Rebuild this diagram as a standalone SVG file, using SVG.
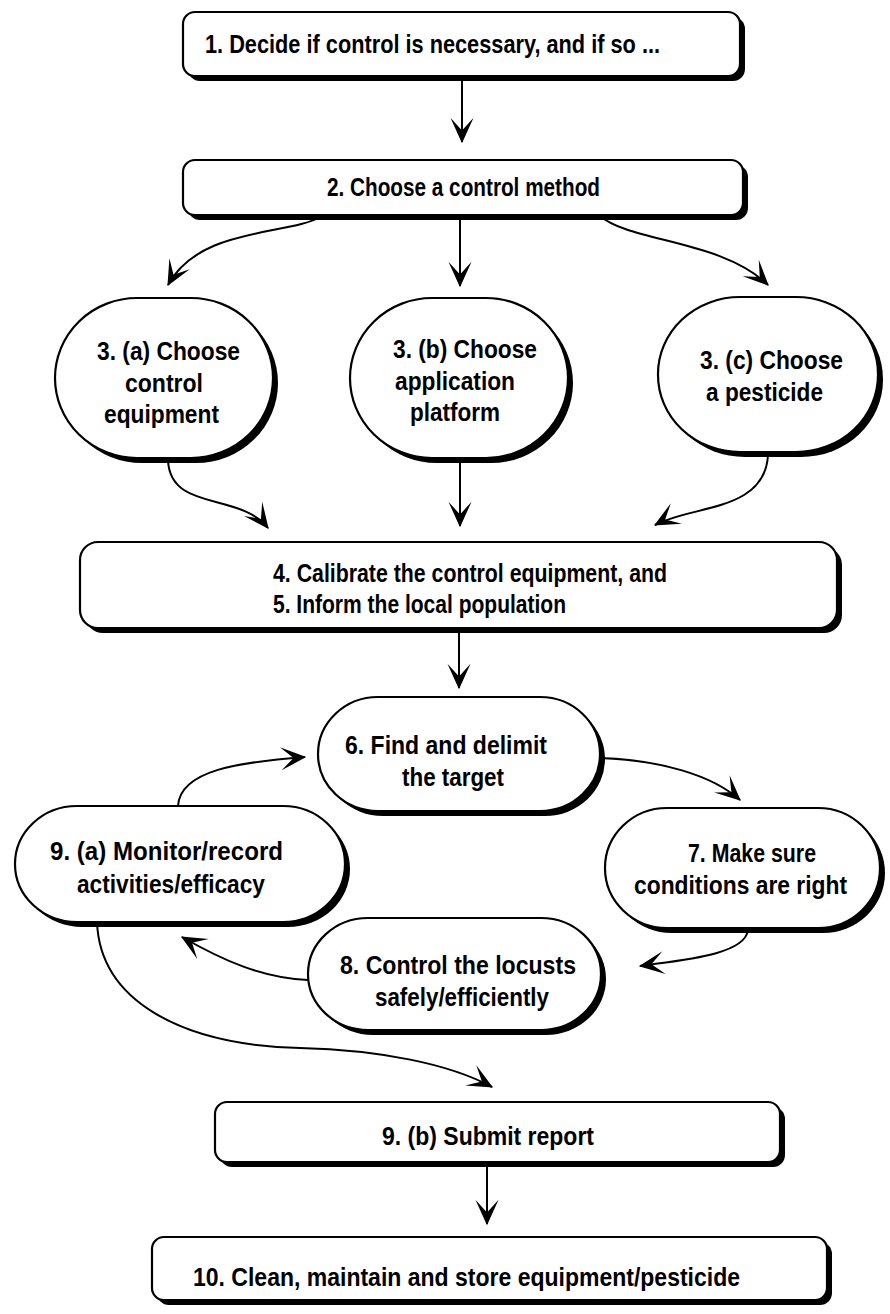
<svg xmlns="http://www.w3.org/2000/svg" width="890" height="1314" viewBox="0 0 890 1314">
<style>
.sh{fill:#000}
.bx{fill:#fff;stroke:#000;stroke-width:2.2}
.t{font-family:"Liberation Sans Narrow","Liberation Sans",Arial,sans-serif;font-weight:bold;font-size:25px;fill:#000}
.c{fill:none;stroke:#000;stroke-width:2;marker-end:url(#ah)}
</style>
<defs>
<marker id="ah" markerUnits="userSpaceOnUse" markerWidth="30" markerHeight="30" refX="0" refY="0" viewBox="-24 -12 26 24" orient="auto" overflow="visible">
<path d="M1,0 L-21,-10 L-10,0 L-21,10 Z" fill="#000"/>
</marker>
</defs>
<rect width="890" height="1314" fill="#fff"/>
<g id="connectors">
<path class="c" d="M462,76 L462,142"/>
<path class="c" d="M322,216 C290,236 200,226 168,285"/>
<path class="c" d="M460,216 L460,286"/>
<path class="c" d="M600,216 C630,242 722,240 768,285"/>
<path class="c" d="M168,460 C170,512 240,492 268,528"/>
<path class="c" d="M460,460 L460,526"/>
<path class="c" d="M768,455 C765,512 692,505 655,525"/>
<path class="c" d="M459,630 L459,688"/>
<path class="c" d="M178,806 C180,770 240,762 305,757"/>
<path class="c" d="M600,758 C660,760 712,775 740,800"/>
<path class="c" d="M748,930 C745,955 682,960 640,966"/>
<path class="c" d="M308,980 C262,978 222,960 182,937"/>
<path class="c" d="M97,922 C100,1000 180,1045 300,1048 C380,1050 450,1064 492,1087"/>
<path class="c" d="M487,1165 L487,1224"/>
</g>
<g id="n1">
<rect class="sh" x="188" y="17" width="557" height="64" rx="12"/>
<rect class="bx" x="183" y="12" width="557" height="64" rx="12"/>
<text class="t" x="205" y="53" textLength="455" lengthAdjust="spacingAndGlyphs">1. Decide if control is necessary, and if so ...</text>
</g>
<g id="n2">
<rect class="sh" x="188" y="165" width="560" height="55" rx="12"/>
<rect class="bx" x="183" y="160" width="560" height="55" rx="12"/>
<text class="t" x="327" y="196" textLength="273" lengthAdjust="spacingAndGlyphs">2. Choose a control method</text>
</g>
<g id="n3a">
<rect class="sh" x="60" y="303" width="218" height="160" rx="82" ry="80"/>
<rect class="bx" x="55" y="298" width="218" height="160" rx="82" ry="80"/>
<text class="t" x="97" y="360" textLength="143" lengthAdjust="spacingAndGlyphs">3. (a) Choose</text>
<text class="t" x="125" y="392" textLength="78" lengthAdjust="spacingAndGlyphs">control</text>
<text class="t" x="104" y="423" textLength="115" lengthAdjust="spacingAndGlyphs">equipment</text>
</g>
<g id="n3b">
<rect class="sh" x="355" y="303" width="218" height="160" rx="82" ry="80"/>
<rect class="bx" x="350" y="298" width="218" height="160" rx="82" ry="80"/>
<text class="t" x="393" y="358" textLength="144" lengthAdjust="spacingAndGlyphs">3. (b) Choose</text>
<text class="t" x="395" y="390" textLength="120" lengthAdjust="spacingAndGlyphs">application</text>
<text class="t" x="410" y="421" textLength="90" lengthAdjust="spacingAndGlyphs">platform</text>
</g>
<g id="n3c">
<rect class="sh" x="663" y="302" width="220" height="155" rx="82" ry="77"/>
<rect class="bx" x="658" y="297" width="220" height="155" rx="82" ry="77"/>
<text class="t" x="700" y="369" textLength="143" lengthAdjust="spacingAndGlyphs">3. (c) Choose</text>
<text class="t" x="706" y="401" textLength="117" lengthAdjust="spacingAndGlyphs">a pesticide</text>
</g>
<g id="n4">
<rect class="sh" x="85" y="547" width="757" height="86" rx="18"/>
<rect class="bx" x="80" y="542" width="757" height="86" rx="18"/>
<text class="t" x="273" y="582" textLength="394" lengthAdjust="spacingAndGlyphs">4. Calibrate the control equipment, and</text>
<text class="t" x="273" y="613" textLength="293" lengthAdjust="spacingAndGlyphs">5. Inform the local population</text>
</g>
<g id="n6">
<rect class="sh" x="323" y="702" width="282" height="114" rx="60" ry="57"/>
<rect class="bx" x="318" y="697" width="282" height="114" rx="60" ry="57"/>
<text class="t" x="345" y="754" textLength="202" lengthAdjust="spacingAndGlyphs">6. Find and delimit</text>
<text class="t" x="402" y="786" textLength="102" lengthAdjust="spacingAndGlyphs">the target</text>
</g>
<g id="n9a">
<rect class="sh" x="20" y="811" width="330" height="116" rx="62" ry="58"/>
<rect class="bx" x="15" y="806" width="330" height="116" rx="62" ry="58"/>
<text class="t" x="50" y="860" textLength="233" lengthAdjust="spacingAndGlyphs">9. (a) Monitor/record</text>
<text class="t" x="77" y="893" textLength="188" lengthAdjust="spacingAndGlyphs">activities/efficacy</text>
</g>
<g id="n7">
<rect class="sh" x="610" y="813" width="275" height="120" rx="62" ry="60"/>
<rect class="bx" x="605" y="808" width="275" height="120" rx="62" ry="60"/>
<text class="t" x="688" y="862" textLength="128" lengthAdjust="spacingAndGlyphs">7. Make sure</text>
<text class="t" x="634" y="894" textLength="213" lengthAdjust="spacingAndGlyphs">conditions are right</text>
</g>
<g id="n8">
<rect class="sh" x="313" y="923" width="293" height="112" rx="60" ry="56"/>
<rect class="bx" x="308" y="918" width="293" height="112" rx="60" ry="56"/>
<text class="t" x="340" y="974" textLength="236" lengthAdjust="spacingAndGlyphs">8. Control the locusts</text>
<text class="t" x="375" y="1006" textLength="174" lengthAdjust="spacingAndGlyphs">safely/efficiently</text>
</g>
<g id="n9b">
<rect class="sh" x="220" y="1107" width="565" height="60" rx="12"/>
<rect class="bx" x="215" y="1102" width="565" height="60" rx="12"/>
<text class="t" x="382" y="1145" textLength="212" lengthAdjust="spacingAndGlyphs">9. (b) Submit report</text>
</g>
<g id="n10">
<rect class="sh" x="157" y="1242" width="675" height="63" rx="12"/>
<rect class="bx" x="152" y="1237" width="675" height="63" rx="12"/>
<text class="t" x="193" y="1286" textLength="547" lengthAdjust="spacingAndGlyphs">10. Clean, maintain and store equipment/pesticide</text>
</g>
</svg>
